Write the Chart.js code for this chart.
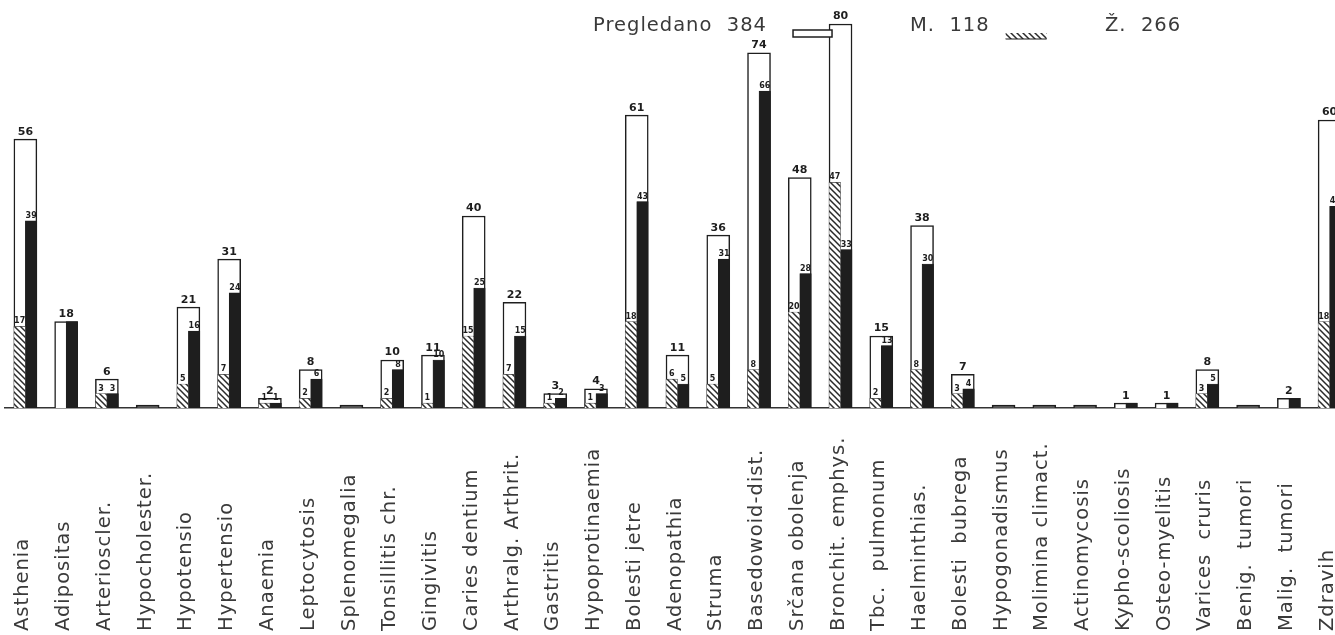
<!DOCTYPE html>
<html>
<head>
<meta charset="utf-8">
<script src="https://cdn.jsdelivr.net/npm/chart.js@4.4.1/dist/chart.umd.min.js"></script>
<style>
    html, body { margin: 0; padding: 0; background: #fff; overflow: hidden; }
    #wrap { position: relative; width: 1350px; height: 635px; }
</style>
</head>
<body>
<div id="wrap"><canvas id="chart"></canvas></div>
<script>
// Dijagnoze (kategorije na x osi)
const categories = [
    'Asthenia', 'Adipositas', 'Arterioscler.', 'Hypocholester.', 'Hypotensio',
    'Hypertensio', 'Anaemia', 'Leptocytosis', 'Splenomegalia', 'Tonsillitis chr.',
    'Gingivitis', 'Caries dentium', 'Arthralg. Arthrit.', 'Gastritis', 'Hypoprotinaemia',
    'Bolesti jetre', 'Adenopathia', 'Struma', 'Basedowoid-dist.', 'Srčana obolenja',
    'Bronchit. emphys.', 'Tbc.  pulmonum', 'Haelminthias.', 'Bolesti  bubrega', 'Hypogonadismus',
    'Molimina climact.', 'Actinomycosis', 'Kypho-scoliosis', 'Osteo-myelitis', 'Varices  cruris',
    'Benig.  tumori', 'Malig.  tumori', 'Zdravih'
];

// Ukupno pregledano, muškarci, žene
const totalValues  = [56, 18, 6, 0, 21, 31, 2, 8, 0, 10, 11, 40, 22, 3, 4, 61, 11, 36, 74, 48, 80, 15, 38, 7, 0, 0, 0, 1, 1, 8, 0, 2, 60];
const maleValues   = [17, 0, 3, 0, 5, 7, 1, 2, 0, 2, 1, 15, 7, 1, 1, 18, 6, 5, 8, 20, 47, 2, 8, 3, 0, 0, 0, 0, 0, 3, 0, 0, 18];
const femaleValues = [39, 18, 3, 0, 16, 24, 1, 6, 0, 8, 10, 25, 15, 2, 3, 43, 5, 31, 66, 28, 33, 13, 30, 4, 0, 0, 0, 1, 1, 5, 0, 2, 42];

// Legenda u zaglavlju
const legendItems = [
    { text: 'Pregledano  384', symbol: 'white' },
    { text: 'M.  118', symbol: 'hatch' },
    { text: 'Ž.  266', symbol: null }
];

const textColor = '#3a3a3a';
const inkColor = '#1e1e1e';

// Šrafura za muškarce
function makeHatch() {
    const c = document.createElement('canvas');
    c.width = 6;
    c.height = 6;
    const g = c.getContext('2d');
    g.fillStyle = '#fff';
    g.fillRect(0, 0, 6, 6);
    g.strokeStyle = '#2a2a2a';
    g.lineWidth = 1.5;
    g.beginPath();
    g.moveTo(-3, 3); g.lineTo(3, 9);
    g.moveTo(0, 0); g.lineTo(6, 6);
    g.moveTo(3, -3); g.lineTo(9, 3);
    g.stroke();
    return g.createPattern(c, 'repeat');
}
const hatch = makeHatch();

// Brojevi iznad stupaca, nazivi dijagnoza i zaglavlje
const annotations = {
    id: 'annotations',
    afterDatasetsDraw(chart) {
        const ctx = chart.ctx;
        const totalMeta = chart.getDatasetMeta(0);
        const maleMeta = chart.getDatasetMeta(1);
        const femaleMeta = chart.getDatasetMeta(2);
        ctx.save();
        ctx.fillStyle = inkColor;
        ctx.textAlign = 'center';
        ctx.textBaseline = 'bottom';
        totalMeta.data.forEach((bar, i) => {
            if (totalValues[i] > 0) {
                ctx.font = 'bold 11px "DejaVu Sans"';
                ctx.fillText(totalValues[i], bar.x, bar.y - 2);
            }
            [[maleMeta, maleValues], [femaleMeta, femaleValues]].forEach(([meta, values]) => {
                const v = values[i];
                if (v > 0 && v !== totalValues[i]) {
                    const el = meta.data[i];
                    ctx.font = 'bold 8px "DejaVu Sans"';
                    ctx.fillText(v, el.x, el.y - 1);
                }
            });
        });
        ctx.restore();
    },
    afterDraw(chart) {
        const ctx = chart.ctx;
        const xScale = chart.scales.x;
        ctx.save();
        ctx.fillStyle = textColor;
        ctx.font = '19.5px "DejaVu Sans"';
        ctx.letterSpacing = '1px';
        ctx.textAlign = 'left';
        ctx.textBaseline = 'middle';
        categories.forEach((label, i) => {
            const x = xScale.getPixelForValue(i) - 2;
            ctx.save();
            ctx.translate(x, 631);
            ctx.rotate(-Math.PI / 2);
            ctx.fillText(label, 0, 0);
            ctx.restore();
        });

        // zaglavlje
        ctx.textBaseline = 'alphabetic';
        ctx.font = '19.5px "DejaVu Sans"';
        const starts = [593, 910, 1105];
        legendItems.forEach((item, k) => {
            const x = starts[k];
            ctx.fillStyle = textColor;
            ctx.fillText(item.text, x, 31);
            const w = ctx.measureText(item.text).width;
            if (item.symbol === 'white') {
                ctx.fillStyle = '#fff';
                ctx.strokeStyle = inkColor;
                ctx.lineWidth = 1.5;
                ctx.fillRect(x + w + 26, 30, 39, 7);
                ctx.strokeRect(x + w + 26, 30, 39, 7);
            } else if (item.symbol === 'hatch') {
                ctx.fillStyle = hatch;
                ctx.fillRect(x + w + 16, 33, 41, 6);
                ctx.strokeStyle = inkColor;
                ctx.lineWidth = 1.2;
                ctx.beginPath();
                ctx.moveTo(x + w + 16, 39);
                ctx.lineTo(x + w + 57, 39);
                ctx.stroke();
            }
        });
        ctx.restore();
    }
};

const chart = new Chart(document.getElementById('chart'), {
    type: 'bar',
    data: {
        labels: categories,
        datasets: [
            {
                label: 'Pregledano',
                data: totalValues,
                grouped: false,
                // prazne dijagnoze su u originalu samo tamna crtica na osnovici
                backgroundColor: (c) => (c.raw === 0 ? '#555' : '#fff'),
                borderColor: inkColor,
                borderWidth: 1.5,
                categoryPercentage: 1,
                barPercentage: 1,
                maxBarThickness: 23,
                minBarLength: 3,
                order: 2
            },
            {
                label: 'M.',
                data: maleValues,
                backgroundColor: hatch,
                borderColor: '#444',
                borderWidth: 0.6,
                barThickness: 11.5,
                order: 1
            },
            {
                label: 'Ž.',
                data: femaleValues,
                backgroundColor: inkColor,
                borderColor: inkColor,
                borderWidth: 0.5,
                barThickness: 11.5,
                order: 1
            }
        ]
    },
    options: {
        responsive: true,
        maintainAspectRatio: false,
        animation: false,
        layout: { padding: { left: 5, right: 0, top: 0, bottom: 219 } },
        plugins: {
            legend: { display: false },
            tooltip: { enabled: false }
        },
        scales: {
            x: {
                offset: true,
                grid: { display: false },
                ticks: { display: false },
                border: { display: true, color: '#333', width: 1.5 }
            },
            y: {
                display: false,
                min: 0,
                max: 85
            }
        }
    },
    plugins: [annotations]
});
</script>
</body>
</html>
